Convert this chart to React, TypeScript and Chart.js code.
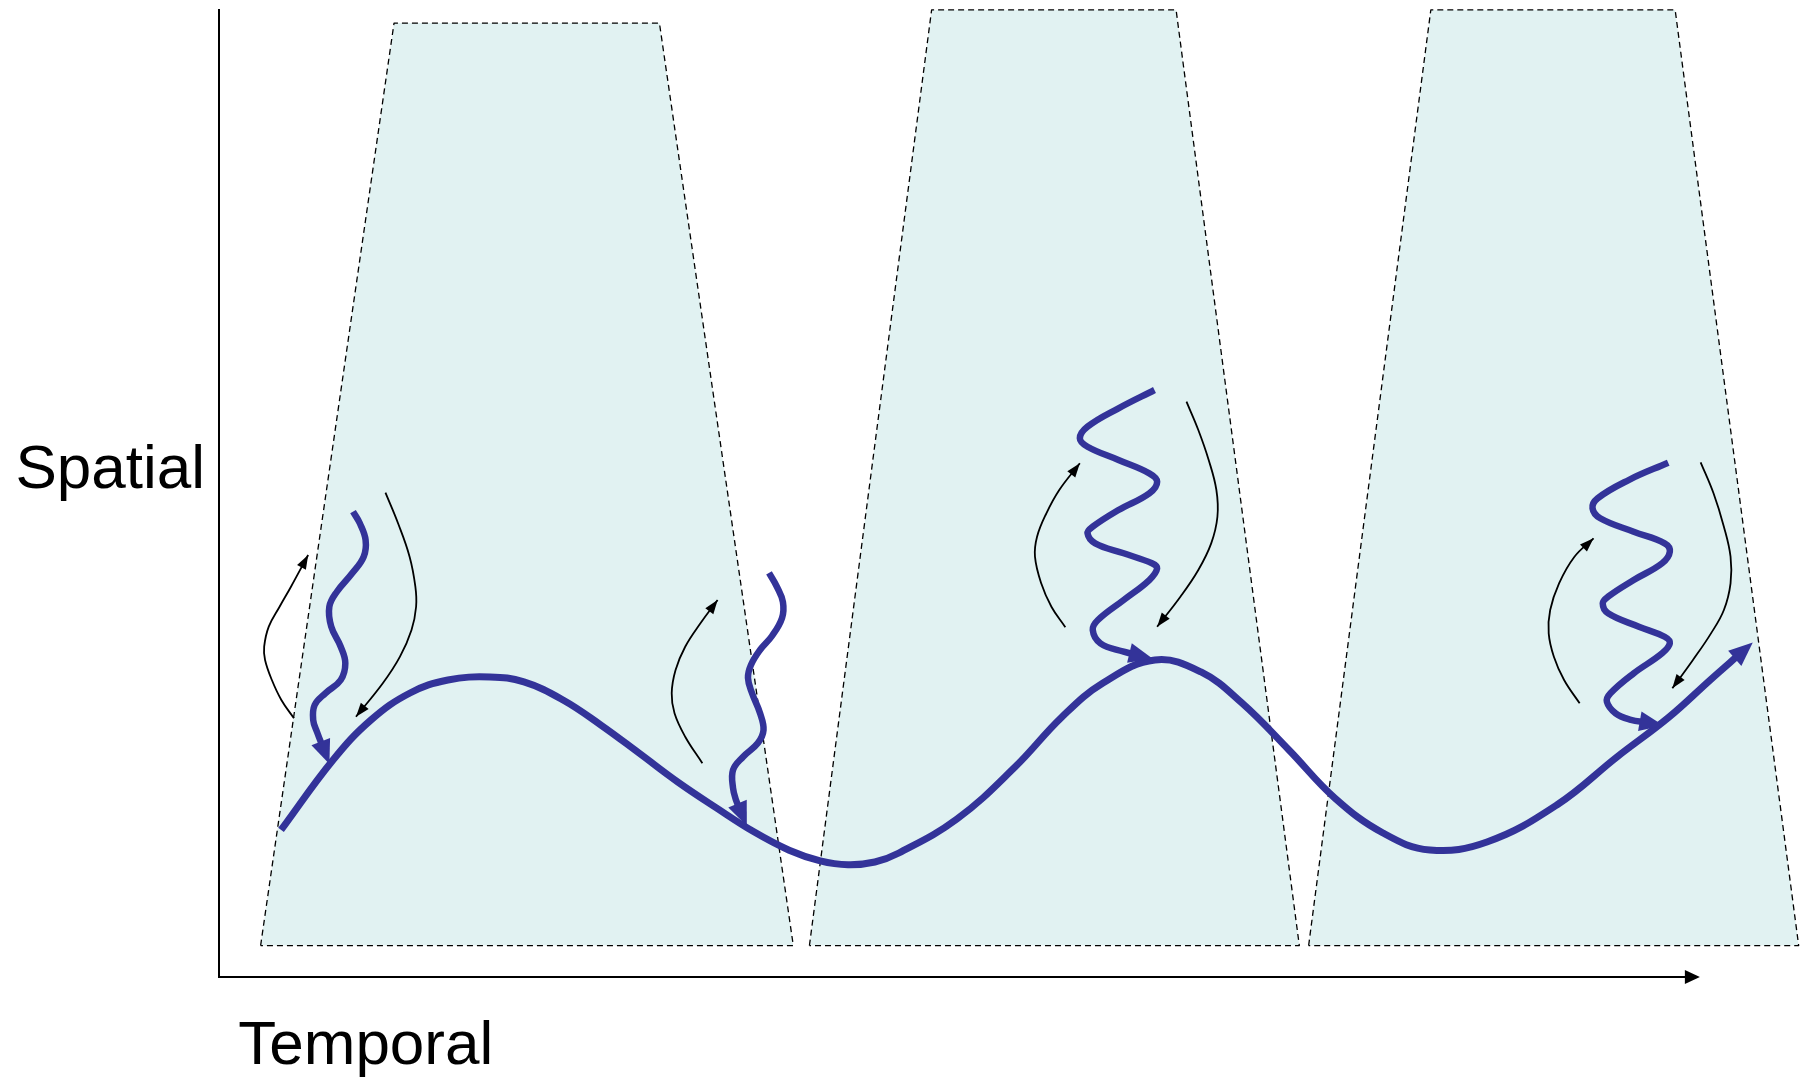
import React, { useEffect, useRef } from "react";
import { Chart, registerables } from "chart.js";

Chart.register(...registerables);

type P = [number, number];

// Axis extents (time units, space units)
const timeAxis: P = [0, 100];
const spaceAxis: P = [0, 100];
const timeView: P = [0, 107.3];

// Labels
const spaceLabel = "Spatial";
const timeLabel = "Temporal";

// Shaded trapezoid regions [time, space]
const trapezoid1: P[] = [[2.81, 3.25], [11.82, 98.55], [29.74, 98.55], [38.78, 3.25], [2.81, 3.25]];
const trapezoid2: P[] = [[39.87, 3.25], [48.12, 99.9], [64.63, 99.9], [72.95, 3.25], [39.87, 3.25]];
const trapezoid3: P[] = [[73.58, 3.25], [81.83, 99.9], [98.33, 99.9], [106.67, 3.25], [73.58, 3.25]];

// Main trajectory
const mainCurve: P[] = [
  [4.19, 15.19], [7.7, 22.42], [10.26, 26.55], [12.9, 29.34], [15.46, 30.68], [18.3, 30.99],
  [20.59, 30.48], [23.23, 28.62], [25.79, 26.03], [28.36, 23.14], [30.99, 20.14], [33.56, 17.5],
  [36.12, 15.0], [38.5, 13.1], [40.6, 12.0], [42.47, 11.6], [44.29, 11.88], [45.91, 12.81],
  [49.83, 16.32], [53.75, 21.69], [56.92, 26.86], [59.69, 30.37], [63.2, 32.75], [66.31, 31.51],
  [69.07, 28.31], [72.25, 23.45], [75.35, 18.49], [78.6, 14.88], [81.77, 13.12], [85.62, 13.95],
  [90.34, 17.77], [94.4, 22.73], [97.92, 26.86], [100.69, 30.68], [102.81, 33.53],
];

// Wavy (thick) arrows
const wavy1: P[] = [
  [9.05, 48.07], [9.51, 46.87], [9.9, 45.14], [9.77, 43.42], [8.99, 41.7], [7.96, 39.8], [7.45, 38.25],
  [7.58, 36.19], [8.22, 34.12], [8.53, 32.41], [8.22, 30.68], [7.18, 29.31], [6.46, 28.1], [6.36, 26.55],
  [6.62, 25.31], [7.09, 23.45],
];
const wavy2: P[] = [
  [37.14, 41.74], [37.68, 40.29], [38.08, 38.74], [38.02, 37.09], [37.34, 35.23], [36.53, 33.78],
  [35.92, 32.23], [35.72, 30.89], [35.99, 29.34], [36.53, 27.27], [36.77, 25.52], [36.39, 24.17],
  [35.38, 22.73], [34.71, 21.38], [34.71, 19.52], [34.91, 18.29], [35.25, 17.05],
];
const wavy3: P[] = [
  [63.17, 60.64], [60.74, 58.75], [58.65, 56.85], [58.13, 55.65], [58.65, 54.78], [60.74, 53.41],
  [62.82, 52.03], [63.35, 51.17], [62.82, 49.97], [60.74, 48.24], [59.0, 46.52], [58.65, 45.84],
  [59.17, 44.8], [61.09, 43.77], [63.0, 42.74], [63.35, 42.22], [62.82, 41.01], [61.09, 38.95],
  [59.35, 36.88], [59.0, 35.85], [59.52, 34.47], [61.09, 33.61], [62.07, 33.25],
];
const wavy4: P[] = [
  [97.86, 53.13], [95.19, 51.34], [93.09, 49.45], [92.75, 48.42], [93.27, 47.39], [95.53, 46.0],
  [97.62, 44.8], [97.97, 43.94], [97.45, 42.74], [95.53, 41.01], [93.8, 39.29], [93.44, 38.6],
  [93.8, 37.57], [95.88, 36.19], [97.62, 35.15], [97.97, 34.47], [97.45, 33.44], [95.53, 31.37],
  [93.96, 29.31], [93.72, 28.44], [94.31, 27.24], [95.27, 26.6], [96.54, 26.26],
];

// Thin black arrows
const thin1Up: P[] = [
  [5.06, 26.73], [4.21, 28.62], [3.57, 30.68], [3.11, 32.75], [3.05, 34.12], [3.36, 36.19],
  [4.09, 38.25], [4.86, 40.32], [6.02, 43.6],
];
const thin1Down: P[] = [
  [11.24, 50.03], [12.09, 46.87], [12.87, 43.42], [13.26, 40.32], [13.31, 38.25], [13.0, 35.85],
  [12.22, 33.09], [11.06, 30.34], [9.25, 26.89],
];
const thin2Up: P[] = [
  [32.64, 22.08], [31.48, 24.82], [30.76, 27.24], [30.57, 29.31], [30.83, 31.71], [31.48, 34.12],
  [32.51, 36.54], [33.67, 38.95],
];
const thin3Up: P[] = [
  [57.15, 36.13], [56.21, 38.25], [55.52, 40.67], [55.1, 43.42], [55.24, 45.48], [55.87, 47.9],
  [56.74, 50.31], [58.13, 53.07],
];
const thin3Down: P[] = [
  [65.33, 59.43], [66.13, 56.51], [66.83, 53.41], [67.35, 50.31], [67.42, 47.55], [67.0, 44.8],
  [66.13, 42.05], [64.92, 39.29], [63.35, 36.19],
];
const thin4Up: P[] = [
  [91.88, 28.27], [90.83, 30.68], [90.14, 33.09], [89.79, 35.5], [89.89, 37.91], [90.49, 40.67],
  [91.53, 43.42], [92.82, 45.32],
];
const thin4Down: P[] = [
  [100.05, 53.17], [100.92, 49.97], [101.62, 46.52], [102.07, 43.42], [102.07, 40.67], [101.62, 37.91],
  [100.75, 35.5], [99.53, 32.75], [98.14, 29.82],
];

const BLUE = "#333399";
const FILL = "#e1f2f2";
const FONT = '62px "Liberation Sans", Arial, sans-serif';

const xy = (pts: P[]) => pts.map(([x, y]) => ({ x, y }));

const trapezoidDs = (pts: P[]) => ({
  data: xy(pts),
  showLine: true,
  fill: "shape",
  backgroundColor: FILL,
  borderColor: "#000",
  borderWidth: 1.3,
  borderDash: [6, 4],
  tension: 0,
  pointRadius: 0,
  clip: false,
  order: 5,
});

const blueArrowDs = (pts: P[], width: number) => ({
  data: xy(pts),
  showLine: true,
  fill: false,
  borderColor: BLUE,
  backgroundColor: BLUE,
  borderWidth: width,
  tension: 0.4,
  pointRadius: 0,
  clip: false,
  order: 0,
  arrow: { ahead: 15, len: 24, width: 20, color: BLUE },
});

const thinArrowDs = (pts: P[]) => ({
  data: xy(pts),
  showLine: true,
  fill: false,
  borderColor: "#000",
  backgroundColor: "#000",
  borderWidth: 1.8,
  tension: 0.4,
  pointRadius: 0,
  clip: false,
  order: 1,
  arrow: { ahead: 0, len: 14, width: 10, color: "#000" },
});

const diagramPlugin = {
  id: "diagram",
  beforeDatasetsDraw(chart: any) {
    const { ctx } = chart;
    const x = chart.scales.x;
    const y = chart.scales.y;
    const x0 = x.getPixelForValue(timeAxis[0]);
    const x1 = x.getPixelForValue(timeAxis[1]);
    const y0 = y.getPixelForValue(spaceAxis[0]);
    const y1 = y.getPixelForValue(spaceAxis[1]);
    ctx.save();
    ctx.strokeStyle = "#000";
    ctx.fillStyle = "#000";
    ctx.lineWidth = 2;
    ctx.beginPath();
    ctx.moveTo(x0, y1);
    ctx.lineTo(x0, y0);
    ctx.lineTo(x1 - 10, y0);
    ctx.stroke();
    ctx.beginPath();
    ctx.moveTo(x1, y0);
    ctx.lineTo(x1 - 15, y0 - 7);
    ctx.lineTo(x1 - 15, y0 + 7);
    ctx.closePath();
    ctx.fill();

    ctx.font = FONT;
    ctx.textBaseline = "alphabetic";
    ctx.textAlign = "right";
    ctx.fillText(spaceLabel, x0 - 14, y.getPixelForValue(50.5));
    ctx.textAlign = "left";
    ctx.fillText(timeLabel, x.getPixelForValue(1.3), y.getPixelForValue(-9));
    ctx.restore();
  },
  afterDatasetsDraw(chart: any) {
    const { ctx } = chart;
    chart.data.datasets.forEach((ds: any, i: number) => {
      if (!ds.arrow) return;
      const meta = chart.getDatasetMeta(i);
      const pts = meta.data;
      if (pts.length < 2) return;
      const el = pts[pts.length - 1];
      const prev = pts[pts.length - 2];
      let rx = el.cp1x;
      let ry = el.cp1y;
      if (rx == null || ry == null || (Math.abs(rx - el.x) < 0.01 && Math.abs(ry - el.y) < 0.01)) {
        rx = prev.x;
        ry = prev.y;
      }
      let dx = el.x - rx;
      let dy = el.y - ry;
      const L = Math.hypot(dx, dy) || 1;
      dx /= L;
      dy /= L;
      const { ahead, len, width, color } = ds.arrow;
      const tx = el.x + dx * ahead;
      const ty = el.y + dy * ahead;
      const bx = tx - dx * len;
      const by = ty - dy * len;
      const px = (-dy * width) / 2;
      const py = (dx * width) / 2;
      ctx.save();
      ctx.fillStyle = color;
      ctx.beginPath();
      ctx.moveTo(tx, ty);
      ctx.lineTo(bx + px, by + py);
      ctx.lineTo(bx - px, by - py);
      ctx.closePath();
      ctx.fill();
      ctx.restore();
    });
  },
};

export default function App() {
  const canvasRef = useRef<HTMLCanvasElement | null>(null);

  useEffect(() => {
    if (!canvasRef.current) return;
    const chart = new Chart(canvasRef.current, {
      type: "scatter",
      data: {
        datasets: [
          blueArrowDs(mainCurve, 7),
          blueArrowDs(wavy1, 6.5),
          blueArrowDs(wavy2, 6.5),
          blueArrowDs(wavy3, 6.5),
          blueArrowDs(wavy4, 6.5),
          thinArrowDs(thin1Up),
          thinArrowDs(thin1Down),
          thinArrowDs(thin2Up),
          thinArrowDs(thin3Up),
          thinArrowDs(thin3Down),
          thinArrowDs(thin4Up),
          thinArrowDs(thin4Down),
          trapezoidDs(trapezoid1),
          trapezoidDs(trapezoid2),
          trapezoidDs(trapezoid3),
        ] as any,
      },
      options: {
        animation: false,
        responsive: false,
        events: [],
        layout: { padding: { left: 219, right: 0, top: 9, bottom: 100 }, autoPadding: false },
        elements: { line: { capBezierPoints: false, borderJoinStyle: "round" } },
        scales: {
          x: { type: "linear", min: timeView[0], max: timeView[1], display: false },
          y: { type: "linear", min: spaceAxis[0], max: spaceAxis[1], display: false },
        },
        plugins: { legend: { display: false }, tooltip: { enabled: false } },
      } as any,
      plugins: [diagramPlugin],
    });
    return () => chart.destroy();
  }, []);

  return (
    <div style={{ position: "fixed", left: 0, top: 0, width: 1808, height: 1077, background: "#fff" }}>
      <canvas ref={canvasRef} width={1808} height={1077} style={{ display: "block", width: 1808, height: 1077 }} />
    </div>
  );
}
